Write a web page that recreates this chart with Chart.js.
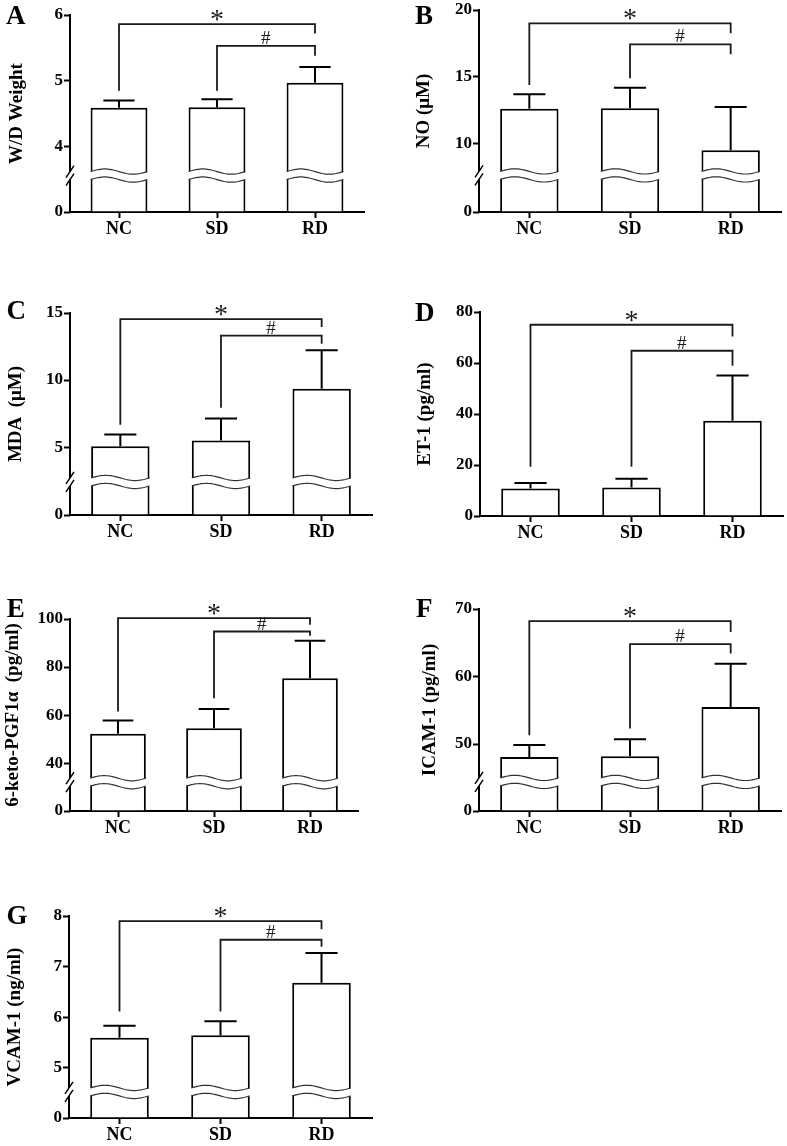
<!DOCTYPE html>
<html><head><meta charset="utf-8">
<script src="https://cdn.jsdelivr.net/npm/chart.js@4"></script>
<style>
html,body{margin:0;padding:0;background:#fff;}
body{width:787px;height:1146px;overflow:hidden;position:relative;}
canvas{position:absolute;}
.lbl{position:absolute;font-family:"Liberation Serif","Times New Roman",serif;font-weight:bold;font-size:27px;line-height:27px;color:#000;}
</style></head><body>
<script>
const categories = ['NC', 'SD', 'RD'];

// A: W/D Weight
const wdMean  = [4.59, 4.60, 4.97];
const wdSD    = [0.11, 0.12, 0.24];
const wdTicks = [0, 4, 5, 6];
const wdStar  = [5.86, 4.85, 5.72];
const wdHash  = [5.53, 4.85, 5.38];

// B: NO (μM)
const noMean  = [12.63, 12.66, 9.53];
const noSD    = [1.08, 1.54, 3.23];
const noTicks = [0, 10, 15, 20];
const noStar  = [19.0, 14.4, 18.26];
const noHash  = [17.44, 14.9, 16.7];

// C: MDA (μM)
const mdaMean  = [5.07, 5.49, 9.36];
const mdaSD    = [0.87, 1.64, 2.86];
const mdaTicks = [0, 5, 10, 15];
const mdaStar  = [14.55, 6.68, 13.96];
const mdaHash  = [13.31, 7.93, 12.71];

// D: ET-1 (pg/ml)
const etMean  = [10.8, 11.2, 37.4];
const etSD    = [2.1, 3.4, 17.7];
const etTicks = [0, 20, 40, 60, 80];
const etStar  = [75.0, 19.3, 70.4];
const etHash  = [64.8, 19.3, 58.9];

// E: 6-keto-PGF1α (pg/ml)
const pgMean  = [52.3, 54.6, 75.4];
const pgSD    = [5.5, 8.0, 15.6];
const pgTicks = [0, 40, 60, 80, 100];
const pgStar  = [100.4, 61.5, 97.6];
const pgHash  = [94.8, 67.1, 93.0];

// F: ICAM-1 (pg/ml)
const icMean  = [48.1, 48.2, 55.5];
const icSD    = [1.75, 2.5, 6.4];
const icTicks = [0, 50, 60, 70];
const icStar  = [68.2, 51.3, 66.6];
const icHash  = [64.8, 52.3, 63.4];

// G: VCAM-1 (ng/ml)
const vcMean  = [5.59, 5.64, 6.68];
const vcSD    = [0.24, 0.28, 0.59];
const vcTicks = [0, 5, 6, 7, 8];
const vcStar  = [7.90, 6.11, 7.74];
const vcHash  = [7.53, 6.11, 7.39];

const panels = [
  {id:'A', title:'W/D Weight', mean:wdMean, sd:wdSD, ticks:wdTicks, star:wdStar, hash:wdHash,
   brk:{upper:3.62, lowFrac:0.165, gapFrac:0.04}, box:[70,15,364,212], titleX:17, letter:[6,2.4]},
  {id:'B', title:'NO (μM)', mean:noMean, sd:noSD, ticks:noTicks, star:noStar, hash:noHash,
   brk:{upper:7.95, lowFrac:0.161, gapFrac:0.04}, box:[479,10,781,212], titleX:424, letter:[415,2.4]},
  {id:'C', title:'MDA  (μM)', mean:mdaMean, sd:mdaSD, ticks:mdaTicks, star:mdaStar, hash:mdaHash,
   brk:{upper:2.71, lowFrac:0.1436, gapFrac:0.04}, box:[70,313,372,515], titleX:16, letter:[6.5,296.5]},
  {id:'D', title:'ET-1 (pg/ml)', mean:etMean, sd:etSD, ticks:etTicks, star:etStar, hash:etHash,
   brk:null, box:[480,312,783,516], titleX:425, letter:[415,299]},
  {id:'E', title:'6-keto-PGF1α  (pg/ml)', mean:pgMean, sd:pgSD, ticks:pgTicks, star:pgStar, hash:pgHash,
   brk:{upper:33.75, lowFrac:0.130, gapFrac:0.04}, box:[70,619,358,811], titleX:13, letter:[6.7,595.4]},
  {id:'F', title:'ICAM-1 (pg/ml)', mean:icMean, sd:icSD, ticks:icTicks, star:icStar, hash:icHash,
   brk:{upper:45.0, lowFrac:0.124, gapFrac:0.04}, box:[479,609,781,811], titleX:430, letter:[416,595.4]},
  {id:'G', title:'VCAM-1 (ng/ml)', mean:vcMean, sd:vcSD, ticks:vcTicks, star:vcStar, hash:vcHash,
   brk:{upper:4.6, lowFrac:0.109, gapFrac:0.04}, box:[69,916,372,1118], titleX:15.5, letter:[6.5,901.5]}
];

const FONT = '"Liberation Serif", "Times New Roman", serif';
Chart.defaults.font.family = FONT;
Chart.defaults.color = '#000';

const brkMap = {};

class BrokenLinear extends Chart.LinearScale {
  _brk() { return brkMap[this.chart.canvas.id]; }
  getPixelForValue(value) {
    const b = this._brk();
    if (!b) return super.getPixelForValue(value);
    const H = this.bottom - this.top;
    const lowPx = b.lowFrac * H, gapPx = b.gapFrac * H;
    const upStart = this.bottom - lowPx - gapPx;
    if (value < b.upper) return this.bottom - (value - this.min) / (b.upper - this.min) * lowPx;
    return upStart - (value - b.upper) / (this.max - b.upper) * (upStart - this.top);
  }
  getValueForPixel(pixel) {
    const b = this._brk();
    if (!b) return super.getValueForPixel(pixel);
    const H = this.bottom - this.top;
    const lowPx = b.lowFrac * H, gapPx = b.gapFrac * H;
    const upStart = this.bottom - lowPx - gapPx;
    if (pixel > this.bottom - lowPx) return this.min + (this.bottom - pixel) / lowPx * (b.upper - this.min);
    if (pixel > upStart) return b.upper;
    return b.upper + (upStart - pixel) / (upStart - this.top) * (this.max - b.upper);
  }
}
BrokenLinear.id = 'brokenLinear';
BrokenLinear.defaults = {};
Chart.register(BrokenLinear);

function centerText(ctx, txt, cx, cy, font) {
  ctx.font = font;
  ctx.textAlign = 'left';
  ctx.textBaseline = 'alphabetic';
  const m = ctx.measureText(txt);
  const x = cx - (m.actualBoundingBoxRight - m.actualBoundingBoxLeft) / 2;
  const yb = cy + (m.actualBoundingBoxAscent - m.actualBoundingBoxDescent) / 2;
  ctx.fillText(txt, x, yb);
}

function wavePath(ctx, x0, x1, yc, amp, move) {
  const n = 30;
  for (let i = 0; i <= n; i++) {
    const t = i / n;
    const x = x0 + (x1 - x0) * t;
    const y = yc - amp * Math.sin(2 * Math.PI * t);
    if (i === 0 && move) ctx.moveTo(x, y); else ctx.lineTo(x, y);
  }
}
function wavePathRev(ctx, x0, x1, yc, amp) {
  const n = 30;
  for (let i = n; i >= 0; i--) {
    const t = i / n;
    ctx.lineTo(x0 + (x1 - x0) * t, yc - amp * Math.sin(2 * Math.PI * t));
  }
}

function drawBreak(ctx, x0, x1, yc) {
  const amp = 2.6, off = 4;
  ctx.save();
  ctx.fillStyle = '#fff';
  ctx.beginPath();
  wavePath(ctx, x0 - 1.5, x1 + 1.5, yc - off, amp, true);
  wavePathRev(ctx, x0 - 1.5, x1 + 1.5, yc + off, amp);
  ctx.closePath();
  ctx.fill();
  ctx.strokeStyle = '#333';
  ctx.lineWidth = 1.2;
  ctx.beginPath(); wavePath(ctx, x0, x1, yc - off, amp, true); ctx.stroke();
  ctx.beginPath(); wavePath(ctx, x0, x1, yc + off, amp, true); ctx.stroke();
  ctx.restore();
}

function makeDecor(p) {
  return {
    id: 'decor' + p.id,
    afterDatasetsDraw(chart) {
      const ctx = chart.ctx, y = chart.scales.y, meta = chart.getDatasetMeta(0);
      ctx.save();
      if (p.brk) {
        const H = y.bottom - y.top;
        const yc = y.bottom - p.brk.lowFrac * H - p.brk.gapFrac * H / 2;
        meta.data.forEach(bar => drawBreak(ctx, bar.x - bar.width / 2, bar.x + bar.width / 2, yc));
      }
      ctx.strokeStyle = '#000';
      ctx.lineWidth = 2;
      meta.data.forEach((bar, i) => {
        const yt = y.getPixelForValue(p.mean[i] + p.sd[i]);
        const cw = bar.width * 0.55;
        ctx.beginPath();
        ctx.moveTo(bar.x, bar.y); ctx.lineTo(bar.x, yt);
        ctx.moveTo(bar.x - cw / 2, yt); ctx.lineTo(bar.x + cw / 2, yt);
        ctx.stroke();
      });
      ctx.restore();
    },
    afterDraw(chart) {
      const ctx = chart.ctx, y = chart.scales.y, x = chart.scales.x;
      const ax = chart.chartArea.left;
      ctx.save();
      ctx.strokeStyle = '#000';
      ctx.lineWidth = 2;
      ctx.beginPath();
      if (p.brk) {
        const H = y.bottom - y.top;
        const yc = y.bottom - p.brk.lowFrac * H - p.brk.gapFrac * H / 2;
        ctx.moveTo(ax, y.top - 1); ctx.lineTo(ax, yc - 4);
        ctx.moveTo(ax, yc + 4); ctx.lineTo(ax, y.bottom + 1);
        ctx.stroke();
        ctx.lineWidth = 1.5;
        ctx.beginPath();
        ctx.moveTo(ax - 4, yc - 4 + 6); ctx.lineTo(ax + 4, yc - 4 - 6);
        ctx.moveTo(ax - 4, yc + 4 + 6); ctx.lineTo(ax + 4, yc + 4 - 6);
        ctx.stroke();
      } else {
        ctx.moveTo(ax, y.top - 1); ctx.lineTo(ax, y.bottom + 1);
        ctx.stroke();
      }
      ctx.strokeStyle = '#1a1a1a';
      ctx.fillStyle = '#1a1a1a';
      ctx.lineWidth = 1.8;
      const br = (i1, i2, vals, txt, font) => {
        const x1 = x.getPixelForValue(i1), x2 = x.getPixelForValue(i2);
        const yl = y.getPixelForValue(vals[0]);
        ctx.beginPath();
        ctx.moveTo(x1, y.getPixelForValue(vals[1]));
        ctx.lineTo(x1, yl); ctx.lineTo(x2, yl);
        ctx.lineTo(x2, y.getPixelForValue(vals[2]));
        ctx.stroke();
        centerText(ctx, txt, (x1 + x2) / 2, yl - 8.5, font);
      };
      br(0, 2, p.star, '*', '28px ' + FONT);
      br(1, 2, p.hash, '#', '19px ' + FONT);
      ctx.restore();
    }
  };
}

panels.forEach(p => {
  const [L, T, R, B] = p.box;
  const padTop = 20, axH = 34, axW = 70, padR = 6;
  const cl = L - axW, ct = T - padTop;
  const cw = R - cl + padR, ch = (B - T) + padTop + axH;
  const cv = document.createElement('canvas');
  cv.id = 'cv' + p.id;
  cv.width = cw; cv.height = ch;
  cv.style.left = cl + 'px'; cv.style.top = ct + 'px';
  cv.style.width = cw + 'px'; cv.style.height = ch + 'px';
  document.body.appendChild(cv);
  if (p.brk) brkMap[cv.id] = p.brk;

  const lbl = document.createElement('div');
  lbl.className = 'lbl';
  lbl.textContent = p.id;
  lbl.style.left = p.letter[0] + 'px';
  lbl.style.top = p.letter[1] + 'px';
  document.body.appendChild(lbl);

  const titleFont = 19;
  const titlePad = p.titleX - cl - titleFont * 1.2 / 2;

  new Chart(cv, {
    type: 'bar',
    data: {
      labels: categories,
      datasets: [{
        data: p.mean,
        backgroundColor: '#fff',
        borderColor: '#000',
        borderWidth: 2,
        borderSkipped: 'start',
        barPercentage: 0.58,
        categoryPercentage: 1.0
      }]
    },
    options: {
      responsive: false,
      animation: false,
      devicePixelRatio: 1,
      layout: { padding: { top: padTop, right: padR, left: 0, bottom: 0 } },
      plugins: { legend: { display: false }, tooltip: { enabled: false }, title: { display: false } },
      scales: {
        x: {
          type: 'category',
          offset: true,
          grid: { display: true, drawOnChartArea: false, drawTicks: true, tickLength: 6,
                  tickWidth: 2, tickColor: '#000', offset: false },
          border: { display: true, color: '#000', width: 2 },
          ticks: { font: { size: 18, weight: 'bold' }, color: '#000', padding: 1, autoSkip: false, maxRotation: 0 },
          afterFit(s) { s.height = axH; }
        },
        y: {
          type: 'brokenLinear',
          min: 0,
          max: p.ticks[p.ticks.length - 1],
          grid: { display: true, drawOnChartArea: false, drawTicks: true, tickLength: 6,
                  tickWidth: 2, tickColor: '#000' },
          border: { display: false },
          ticks: { font: { size: 17, weight: 'bold' }, color: '#000', padding: 1, autoSkip: false,
                   callback: v => String(v) },
          afterBuildTicks(s) { s.ticks = p.ticks.map(v => ({ value: v })); },
          title: { display: true, text: p.title, color: '#000',
                   font: { size: titleFont, weight: 'bold' }, padding: { top: titlePad, bottom: 0 } },
          afterFit(s) { s.width = axW; }
        }
      }
    },
    plugins: [makeDecor(p)]
  });
});
</script>
</body></html>
